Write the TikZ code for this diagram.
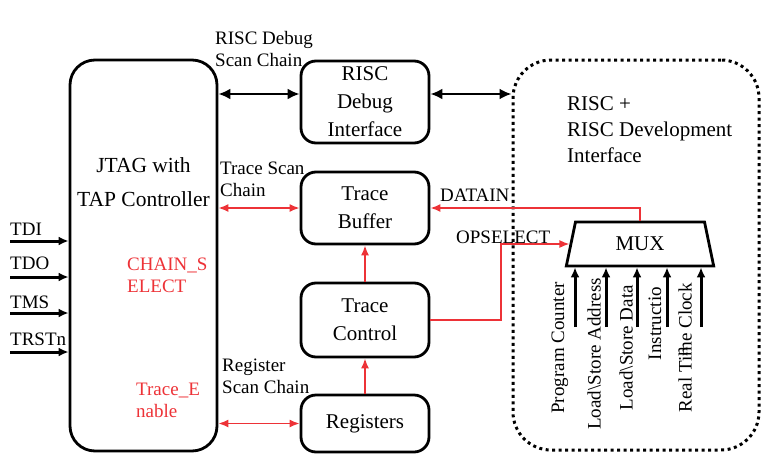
\documentclass[tikz,border=0pt]{standalone}
\usepackage{fontspec}
\setmainfont{Liberation Serif}
\usetikzlibrary{shapes.geometric, arrows.meta}
\definecolor{sigred}{RGB}{237,50,55}

\begin{document}
\begin{tikzpicture}[x=1pt, y=-1pt,
    block/.style={draw, line width=2.8pt, rounded corners=15pt, align=center,
        font=\fontsize{21}{28}\selectfont, inner sep=0pt},
    lbl/.style={anchor=west, align=left, inner sep=0pt, font=\fontsize{19}{22}\selectfont},
    redlbl/.style={lbl, text=sigred},
    bus/.style={line width=2.7pt, {Latex[length=12pt,width=11pt]}-{Latex[length=12pt,width=11pt]}},
    redbus/.style={line width=1.6pt, sigred, {Latex[length=10pt,width=8pt]}-{Latex[length=10pt,width=8pt]}},
    redsig/.style={line width=1.6pt, sigred, -{Latex[length=10pt,width=8pt]}},
    pin/.style={line width=3pt, -{Latex[length=10pt,width=9pt]}},
    muxlbl/.style={rotate=90, anchor=east, inner sep=0pt, font=\fontsize{19}{22}\selectfont}]

      \useasboundingbox (0,0) rectangle (776,466);

      % blocks
      \node[block, rounded corners=25pt, minimum width=147pt, minimum height=391pt] (jtag) at (143.5,255.5) {};
      \node[align=center, inner sep=0pt, font=\fontsize{21.5}{34}\selectfont] (jtagtext) at (143.5,182) {JTAG with\\TAP Controller};
      \node[block, minimum width=128pt, minimum height=82pt] (debugif) at (365,102) {RISC\\Debug\\Interface};
      \node[block, minimum width=128pt, minimum height=72pt] (tbuffer) at (365,208) {Trace\\Buffer};
      \node[block, minimum width=128pt, minimum height=74pt] (tcontrol) at (365,320) {Trace\\Control};
      \node[block, minimum width=128pt, minimum height=57pt] (registers) at (365,423.5) {Registers};

      \node[draw, line width=3pt, dash pattern=on 3pt off 3.5pt, rounded corners=38pt,
          minimum width=246pt, minimum height=390pt] (riscbox) at (636,255) {};
      \node[lbl, font=\fontsize{21}{26}\selectfont] (risctext) at (567,130) {RISC +\\RISC Development\\Interface};

      \node[trapezium, draw, line width=2.8pt, trapezium left angle=76, trapezium right angle=76,
          trapezium stretches=true, minimum width=148pt, minimum height=44pt, inner sep=0pt,
          font=\fontsize{21}{26}\selectfont] (mux) at (640,244) {MUX};

      % labels
      \node[lbl] (debuglbl) at (215,49) {RISC Debug\\Scan Chain};
      \node[lbl] (tracelbl) at (220,179) {Trace Scan\\Chain};
      \node[lbl] (reglbl) at (222,376) {Register\\Scan Chain};
      \node[lbl] (datainlbl) at (440,195) {DATAIN};
      \node[lbl] (opsellbl) at (456,237) {OPSELECT};
      \node[redlbl] (chainlbl) at (127,275) {CHAIN\_S\\ELECT};
      \node[redlbl] (enablelbl) at (136,400) {Trace\_E\\nable};

      % connections
      \coordinate (dbgL) at ([yshift=8pt]debugif.west);
      \coordinate (dbgR) at ([yshift=8pt]debugif.east);
      \draw[bus] (jtag.east |- dbgL) -- (dbgL);
      \draw[bus] (dbgR) -- (riscbox.west |- dbgR);

      \draw[redbus] (jtag.east |- tbuffer.west) -- (tbuffer.west);
      \draw[redbus] (jtag.east |- registers.west) -- (registers.west);
      \draw[redsig] (tcontrol.north) -- (tbuffer.south);
      \draw[redsig] (registers.north) -- (tcontrol.south);
      \draw[redsig] (mux.north) |- (tbuffer.east);
      \coordinate (opsel) at (501,0);
      \draw[redsig] (tcontrol.east) -| (opsel |- mux.west) -- (mux.west);

      % jtag pins
      \foreach \nm/\yy/\txt/\ty in {tdi/241/TDI/229, tdo/277/TDO/263, tms/313/TMS/302, trst/352/TRSTn/339} {
          \coordinate (\nm) at (10,\yy);
          \node[lbl] (\nm-lbl) at (10,\ty) {\txt};
          \draw[pin] (\nm) -- (\nm -| jtag.west);
      }

      % mux inputs
      \foreach \i/\xx in {1/575, 2/606, 3/637, 4/667, 5/701} {
          \coordinate (in\i) at (\xx,327);
          \draw[pin] (in\i) -- (in\i |- mux.south);
      }
      \node[muxlbl] (pclbl) at (560,282) {Program Counter};
      \node[muxlbl] (addrlbl) at (594,278) {Load\textbackslash Store Address};
      \node[muxlbl] (datalbl) at (626,285) {Load\textbackslash Store Data};
      \node[muxlbl] (instrlbl) at (655,287) {Instructio};
      \node[muxlbl, anchor=west] (instrlbl2) at (683,357) {n};
      \node[muxlbl] (rtclbl) at (685,283) {Real Time Clock};
\end{tikzpicture}
\end{document}
